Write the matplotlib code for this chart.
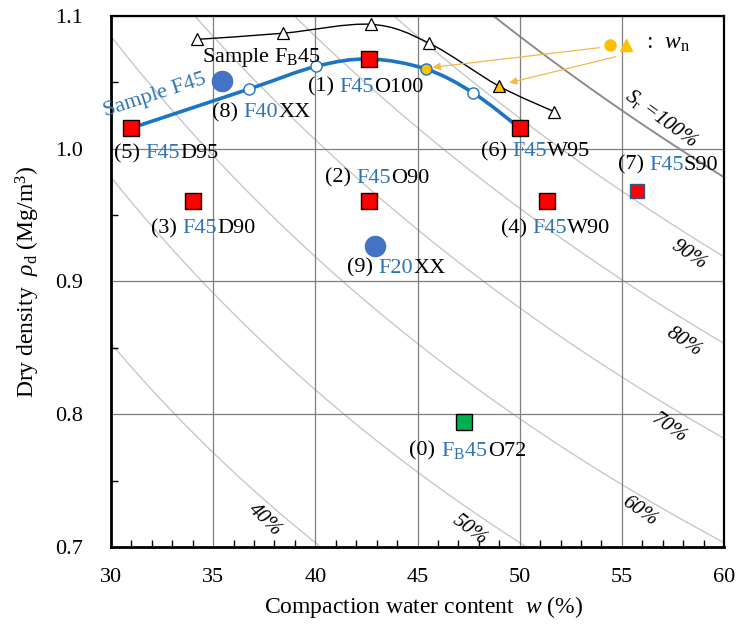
import numpy as np
import matplotlib
matplotlib.use("Agg")
import matplotlib.pyplot as plt
from matplotlib.path import Path
from matplotlib.patches import PathPatch
from matplotlib.offsetbox import TextArea, HPacker, AnnotationBbox

plt.rcParams["font.family"] = "Liberation Serif"
plt.rcParams["mathtext.fontset"] = "custom"
plt.rcParams["mathtext.rm"] = "Liberation Serif"
plt.rcParams["mathtext.it"] = "Liberation Serif:italic"
plt.rcParams["mathtext.bf"] = "Liberation Serif:bold"

BLUE_TXT = "#2E75B6"
BLUE_LINE = "#1C74C4"

# ------------------------------------------------------------
# data
# ------------------------------------------------------------
# compaction curve of sample F45 (blue) and F_B45 (black)
f45_w = [31.0, 36.76, 40.03, 42.65, 45.42, 47.73, 50.0]
f45_rho = [1.0156, 1.045, 1.062, 1.0676, 1.060, 1.042, 1.0156]
f45_open_w = [36.76, 40.03, 47.73]
f45_open_rho = [1.045, 1.062, 1.042]
f45_wn = (45.42, 1.060)

fb45_w = [34.22, 38.42, 42.73, 45.58, 48.97, 51.69]
fb45_rho = [1.0824, 1.087, 1.0937, 1.0794, 1.0473, 1.0279]
fb45_open_w = [34.22, 38.42, 42.73, 45.58, 51.69]
fb45_open_rho = [1.0824, 1.087, 1.0937, 1.0794, 1.0279]
fb45_wn = (48.97, 1.0473)

# specimens (red squares)
spec_names = ["(1)", "(2)", "(3)", "(4)", "(5)", "(6)"]
spec_tail = ["O100", "O90", "D90", "W90", "D95", "W95"]
spec_w = [42.65, 42.65, 34.0, 51.35, 31.0, 50.0]
spec_rho = [1.0676, 0.961, 0.961, 0.961, 1.0156, 1.0156]
spec_lab_w = [42.46, 43.04, 34.51, 51.77, 32.69, 50.78]
spec_lab_rho = [1.0465, 0.9777, 0.940, 0.940, 0.9965, 0.9977]

s90_w, s90_rho = 55.73, 0.968
fb45o72_w, fb45o72_rho = 47.29, 0.7943
fb45_sample = (35.44, 1.051)
f20xx = (42.9, 0.9267)

# saturation lines
gs = 2.37
sr_values = [0.4, 0.5, 0.6, 0.7, 0.8, 0.9, 1.0]
sr_labels = ["40%", "50%", "60%", "70%", "80%", "90%", r"$S_\mathrm{r}$ =100%"]
sr_lab_w = [37.52, 47.54, 55.84, 57.31, 58.04, 58.29, 56.92]
sr_lab_rho = [0.7202, 0.7127, 0.7265, 0.7893, 0.8543, 0.9199, 1.0231]
sr_lab_rot = [-44, -37, -35, -35, -34, -34, -36]

# natural water content arrows: (start, end)
wn_arrows = [((53.89, 1.0761), (45.74, 1.0613)),
             ((54.70, 1.0693), (49.49, 1.0497))]


def smooth_path(xs, ys):
    # Catmull-Rom spline written as cubic Bezier segments
    pts = np.column_stack([xs, ys]).astype(float)
    p = np.vstack([pts[0], pts, pts[-1]])
    verts = [pts[0]]
    codes = [Path.MOVETO]
    for i in range(1, len(p) - 2):
        c1 = p[i] + (p[i + 1] - p[i - 1]) / 6
        c2 = p[i + 1] - (p[i + 2] - p[i]) / 6
        verts += [c1, c2, p[i + 1]]
        codes += [Path.CURVE4] * 3
    return Path(verts, codes)


def color_label(ax, x, y, parts, size=16):
    boxes = [TextArea(t, textprops=dict(color=c, fontsize=size)) for t, c in parts]
    pack = HPacker(children=boxes, align="baseline", pad=0, sep=0)
    ab = AnnotationBbox(pack, (x, y), xycoords="data", frameon=False,
                        box_alignment=(0.5, 0.5), pad=0, zorder=6)
    ax.add_artist(ab)


fig = plt.figure(figsize=(7.37, 6.39), dpi=100)
ax = fig.add_axes([0.1506, 0.144, 0.8318, 0.831])

# saturation curves
w_line = np.linspace(0.29, 0.61, 200)
for sr in sr_values:
    rho = 1.0 / (1.0 / gs + w_line / sr)
    if sr == 1.0:
        ax.plot(w_line * 100, rho, color="#8C8C8C", lw=1.4, zorder=1)
    else:
        ax.plot(w_line * 100, rho, color="#C8C8C8", lw=1.0, zorder=1)
for lab, x, y, r in zip(sr_labels, sr_lab_w, sr_lab_rho, sr_lab_rot):
    ax.text(x, y, lab, fontsize=15, style="italic", rotation=r,
            rotation_mode="anchor", ha="center", va="center", zorder=3)

# compaction curves
ax.add_patch(PathPatch(smooth_path(fb45_w, fb45_rho), fill=False,
                       edgecolor="black", lw=1.0, zorder=3))
ax.plot(fb45_open_w, fb45_open_rho, "^", ms=8, mfc="white", mec="black",
        mew=0.9, zorder=4)
ax.plot(*fb45_wn, "^", ms=8, mfc="#FFC000", mec="black", mew=0.9, zorder=4)

ax.add_patch(PathPatch(smooth_path(f45_w, f45_rho), fill=False,
                       edgecolor=BLUE_LINE, lw=2.6, zorder=3))
ax.plot(f45_open_w, f45_open_rho, "o", ms=8, mfc="white", mec=BLUE_LINE,
        mew=1.0, zorder=4)
ax.plot(*f45_wn, "o", ms=8, mfc="#FFC000", mec=BLUE_LINE, mew=1.0, zorder=4)

# specimens
ax.plot(spec_w, spec_rho, "s", ms=11, mfc="#FF0000", mec="black", mew=1.0, zorder=5)
ax.plot(s90_w, s90_rho, "s", ms=10, mfc="#FF0000", mec="#2F5597", mew=1.0, zorder=5)
ax.plot(fb45o72_w, fb45o72_rho, "s", ms=11, mfc="#00B050", mec="black", mew=1.0, zorder=5)
ax.plot(*fb45_sample, "o", ms=14.5, mfc="#4472C4", mec="#4472C4", zorder=5)
ax.plot(*f20xx, "o", ms=14.5, mfc="#4472C4", mec="#4472C4", zorder=5)

# labels
for nm, tail, x, y in zip(spec_names, spec_tail, spec_lab_w, spec_lab_rho):
    color_label(ax, x, y, [(nm + " ", "black"), ("F45", BLUE_TXT), (tail, "black")])
color_label(ax, 57.26, 0.9877, [("(7) ", "black"), ("F45", BLUE_TXT), ("S90", "black")])
color_label(ax, 37.36, 1.0271, [("(8) ", "black"), ("F40", BLUE_TXT), ("XX", "black")])
color_label(ax, 43.96, 0.9099, [("(9) ", "black"), ("F20", BLUE_TXT), ("XX", "black")])
color_label(ax, 47.46, 0.773, [("(0) ", "black"), (r"F$_\mathrm{B}$45", BLUE_TXT),
                               ("O72", "black")])
ax.text(37.38, 1.0689, r"Sample F$_\mathrm{B}$45", fontsize=16, ha="center",
        va="center", zorder=6)
ax.text(32.17, 1.040, "Sample F45", fontsize=16, color=BLUE_TXT, rotation=18,
        rotation_mode="anchor", ha="center", va="center", zorder=6)

# natural water content key
ax.plot(54.41, 1.078, "o", ms=8, color="#FFC000", zorder=5)
ax.plot(55.22, 1.078, "^", ms=8, color="#FFC000", zorder=5)
ax.text(56.16, 1.079, r":  $w_\mathrm{n}$", fontsize=17, ha="left", va="center")
for (x0, y0), (x1, y1) in wn_arrows:
    ax.annotate("", xy=(x1, y1), xytext=(x0, y0),
                arrowprops=dict(arrowstyle="-|>", color="#F2B84B", lw=0.9,
                                mutation_scale=11, shrinkA=0, shrinkB=0),
                zorder=4)

# axes
ax.set_xlim(30, 60)
ax.set_ylim(0.7, 1.1)
ax.set_xticks(np.arange(30, 61, 5))
ax.set_yticks(np.arange(0.7, 1.101, 0.1))
ax.set_yticklabels(["0.7", "0.8", "0.9", "1.0", "1.1"])
ax.set_xticks(np.arange(30, 61, 1), minor=True)
ax.set_yticks(np.arange(0.7, 1.101, 0.05), minor=True)
ax.grid(True, which="major", color="#7F7F7F", lw=0.9, zorder=0)
ax.tick_params(which="major", length=0, labelsize=16, pad=20)
ax.tick_params(axis="x", which="major", pad=15)
ax.tick_params(which="minor", direction="in", length=5, width=1.0,
               top=False, right=False)
for side in ["left", "bottom"]:
    ax.spines[side].set_linewidth(2.0)
for side in ["top", "right"]:
    ax.spines[side].set_linewidth(1.6)

ax.set_xlabel(r"Compaction water content  $w$ (%)", fontsize=17)
ax.xaxis.set_label_coords(0.51, -0.088)
ax.set_ylabel(r"Dry density  $\rho_\mathrm{d}$ (Mg/m$^3$)", fontsize=17)
ax.yaxis.set_label_coords(-0.113, 0.5)

fig.savefig("out.png", dpi=100)
